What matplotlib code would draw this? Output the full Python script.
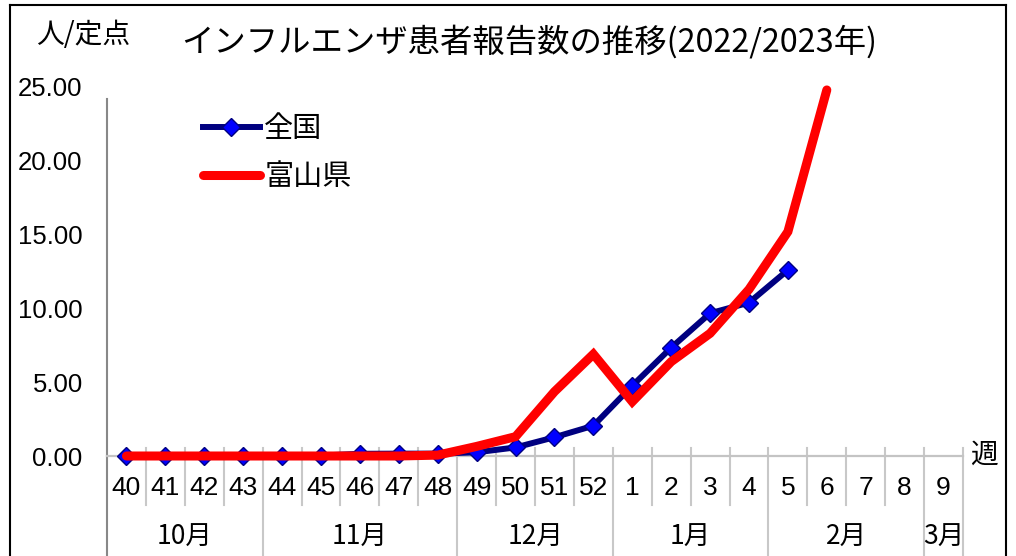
import matplotlib
matplotlib.use("Agg")
import matplotlib.pyplot as plt
import matplotlib.transforms as mtransforms
from matplotlib.lines import Line2D
import numpy as np

# ---- data ----
weeks = ['40', '41', '42', '43', '44', '45', '46', '47', '48', '49', '50', '51', '52',
         '1', '2', '3', '4', '5', '6', '7', '8', '9']
month_labels = ['10月', '11月', '12月', '1月', '2月', '3月']
month_spans = [4, 5, 4, 4, 4, 1]
national = [0.02, 0.02, 0.02, 0.02, 0.03, 0.03, 0.15, 0.16, 0.16, 0.25, 0.58, 1.27, 2.05,
            4.76, 7.34, 9.67, 10.39, 12.6]
toyama = [0.0, 0.0, 0.0, 0.0, 0.0, 0.0, 0.0, 0.0, 0.06, 0.65, 1.31, 4.36, 6.9,
          3.68, 6.39, 8.31, 11.29, 15.2, 24.8]
yticks = [0, 5, 10, 15, 20, 25]
title = 'インフルエンザ患者報告数の推移(2022/2023年)'
ylabel = '人/定点'
xlabel = '週'
series_names = ['全国', '富山県']

JP = ['Noto Sans CJK JP', 'DejaVu Sans']
NUM = ['Liberation Sans', 'DejaVu Sans']

W, H = 1016, 556
fig = plt.figure(figsize=(W / 100, H / 100), dpi=100)
ax = fig.add_axes([107 / W, 100 / H, 856 / W, 369 / H])
ax.set_xlim(-0.5, len(weeks) - 0.5)
ax.set_ylim(0, 25)

# lines
ax.plot(range(len(national)), national, color='#000080', lw=4.3, marker='D', ms=8.8,
        mfc='#0000FF', mec='#000080', mew=1.0, label=series_names[0], zorder=3,
        clip_on=False)
ax.plot(range(len(toyama)), toyama, color='#FF0000', lw=6.5, solid_capstyle='round',
        solid_joinstyle='miter', label=series_names[1], zorder=4, clip_on=False)

# spines
for s in ['top', 'right']:
    ax.spines[s].set_visible(False)
ax.spines['bottom'].set_color('#C4C4C4')
ax.spines['bottom'].set_linewidth(1.6)
ax.spines['left'].set_color('#888888')
ax.spines['left'].set_linewidth(1.5)
ax.spines['left'].set_bounds(0, 24.2)

# y ticks
ax.set_yticks(yticks)
ax.set_yticklabels(['%.2f' % v for v in yticks], fontfamily=NUM, fontsize=18.5)
ax.tick_params(axis='y', which='major', length=0, pad=17.5)
ax.set_yticks([5, 10, 15, 20], minor=True)
ax.tick_params(axis='y', which='minor', direction='in', length=7.2, width=1.4,
               color='#888888')
ax.set_xticks([])

trans = mtransforms.blended_transform_factory(ax.transData, ax.transAxes)

# left axis extension into label area
ax.add_line(Line2D([0, 0], [0, -0.275], transform=ax.transAxes, color='#888888',
                   lw=1.5, clip_on=False))

# separators
bounds = np.cumsum(month_spans)
for k in range(1, len(weeks) + 1):
    x = k - 0.5
    bottom = -0.275 if k in bounds else -0.1328
    ax.add_line(Line2D([x, x], [0.0217, bottom], transform=trans, color='#C8C8C8',
                       lw=1.5, clip_on=False, zorder=1))

# week labels
for i, w in enumerate(weeks):
    ax.text(i, -0.0867, w, transform=trans, ha='center', va='center',
            fontfamily=NUM, fontsize=19)

# month labels
start = 0
for lab, span in zip(month_labels, month_spans):
    center = start + span / 2 - 0.5
    ax.text(center, -0.2195, lab, transform=trans, ha='center', va='center',
            fontfamily=JP, fontsize=19)
    start += span

# legend
leg = ax.legend(loc='upper left', bbox_to_anchor=(203 / W, 1 - 114 / H),
                bbox_transform=fig.transFigure, frameon=False, borderpad=0,
                borderaxespad=0, handlelength=1.95, handletextpad=0.15,
                labelspacing=0.62, prop={'family': JP, 'size': 21})

# texts
fig.text(181 / W, 1 - 42 / H, title, ha='left', va='center', fontfamily=JP,
         fontsize=23.3)
fig.text(36 / W, 1 - 35 / H, ylabel, ha='left', va='center', fontfamily=JP,
         fontsize=20)
fig.text(984 / W, 1 - 455 / H, xlabel, ha='center', va='center', fontfamily=JP,
         fontsize=20)

# outer border
fig.add_artist(Line2D([10 / W, 10 / W], [0, 1 - 5 / H], transform=fig.transFigure,
                      color='black', lw=1.5))
fig.add_artist(Line2D([1006 / W, 1006 / W], [0, 1 - 5 / H], transform=fig.transFigure,
                      color='black', lw=1.5))
fig.add_artist(Line2D([10 / W, 1006 / W], [1 - 5 / H, 1 - 5 / H],
                      transform=fig.transFigure, color='black', lw=1.5))

fig.savefig('out.png', dpi=100)
